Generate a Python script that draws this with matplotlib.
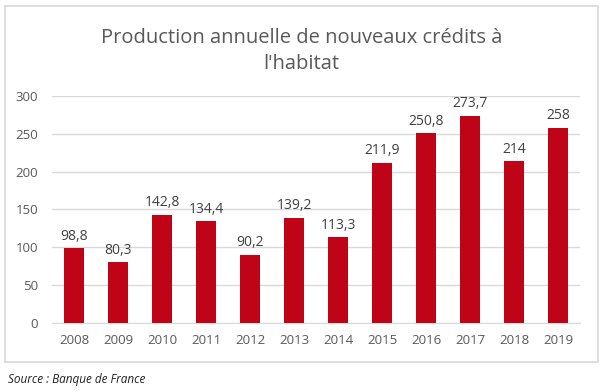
import matplotlib
import matplotlib.pyplot as plt
from matplotlib.patches import Rectangle

matplotlib.rcParams["font.family"] = ["Open Sans", "DejaVu Sans"]

# données (Mds €)
years = ["2008", "2009", "2010", "2011", "2012", "2013", "2014", "2015", "2016", "2017", "2018", "2019"]
values = [98.8, 80.3, 142.8, 134.4, 90.2, 139.2, 113.3, 211.9, 250.8, 273.7, 214, 258]
labels = ["98,8", "80,3", "142,8", "134,4", "90,2", "139,2", "113,3", "211,9", "250,8", "273,7", "214", "258"]
yticks = [0, 50, 100, 150, 200, 250, 300]

W, H = 603, 392
fig = plt.figure(figsize=(W / 100, H / 100), dpi=100)

# cadre du graphique
fig.patches.append(Rectangle((5 / W, 1 - 362 / H), 593 / W, 356 / H, transform=fig.transFigure,
                             fill=False, edgecolor="#d9d9d9", linewidth=1.2))

ax = fig.add_axes([52 / W, 1 - 323 / H, 528 / W, 227 / H])
x = range(len(years))
ax.bar(x, values, width=0.44, color="#C00418", zorder=3)
for i, v in enumerate(values):
    ax.text(i, v + 6, labels[i], ha="center", va="bottom", fontsize=10, color="#404040")

ax.set_ylim(0, 300)
ax.set_xlim(-0.5, len(years) - 0.5)
ax.set_yticks(yticks)
ax.set_xticks(list(x))
ax.set_xticklabels(years)
ax.grid(axis="y", color="#d9d9d9", linewidth=1, zorder=0)
for s in ["top", "right", "left"]:
    ax.spines[s].set_visible(False)
ax.spines["bottom"].set_color("#d9d9d9")
ax.tick_params(axis="both", length=0, labelsize=9.5, labelcolor="#595959")
ax.tick_params(axis="x", pad=8)
ax.tick_params(axis="y", pad=10)

fig.text(0.5, 1 - 51 / H, "Production annuelle de nouveaux crédits à\nl'habitat", ha="center", va="center",
         fontsize=14.5, color="#595959", linespacing=1.45)
fig.text(8 / W, 1 - 380 / H, "Source : Banque de France", ha="left", va="center", fontsize=8.5,
         style="italic", color="#222222")

fig.savefig("out.png", dpi=100)
